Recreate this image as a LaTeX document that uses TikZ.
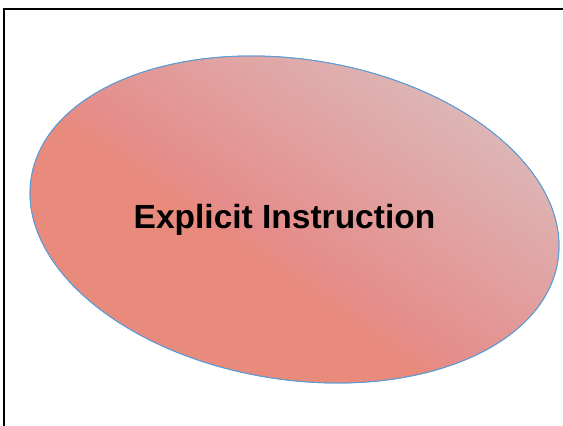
\documentclass[tikz,border=0pt]{standalone}
\usepackage{fontspec}
\setmainfont{Liberation Sans}
\definecolor{salmon}{RGB}{232,139,125}
\definecolor{salmon band}{RGB}{229,140,138}
\definecolor{ash pink}{RGB}{216,206,206}
\definecolor{ellipse edge}{RGB}{91,155,213}
\pgfdeclarehorizontalshading{salmonfade}{100bp}{color(0bp)=(salmon); color(42.5bp)=(salmon); color(45.5bp)=(salmon band); color(85bp)=(ash pink); color(100bp)=(ash pink)}
\def\mainellipse{(294.5,206.5) ellipse [x radius=266.6, y radius=160.1, rotate=-9]}
\tikzset{filled/.style={shading=salmonfade, shading angle=55, draw=ellipse edge, line width=0.8pt},
	frame/.style={draw=black, line width=2.2pt},
	label/.style={font=\fontsize{33.5}{40}\selectfont\bfseries, text=black, inner sep=0pt}}

\begin{document}
\begin{tikzpicture}[x=1pt, y=1pt]
		\clip (0,0) rectangle (563,426);
		\draw[frame] (4,-20) -- (4,417) -- (590,417);
		\shade[filled] \mainellipse;
		\draw[draw=ellipse edge, line width=0.8pt] \mainellipse;
		\node[label, anchor=base] (title) at (284.5,197) {Explicit Instruction};
		\end{tikzpicture}
\end{document}
